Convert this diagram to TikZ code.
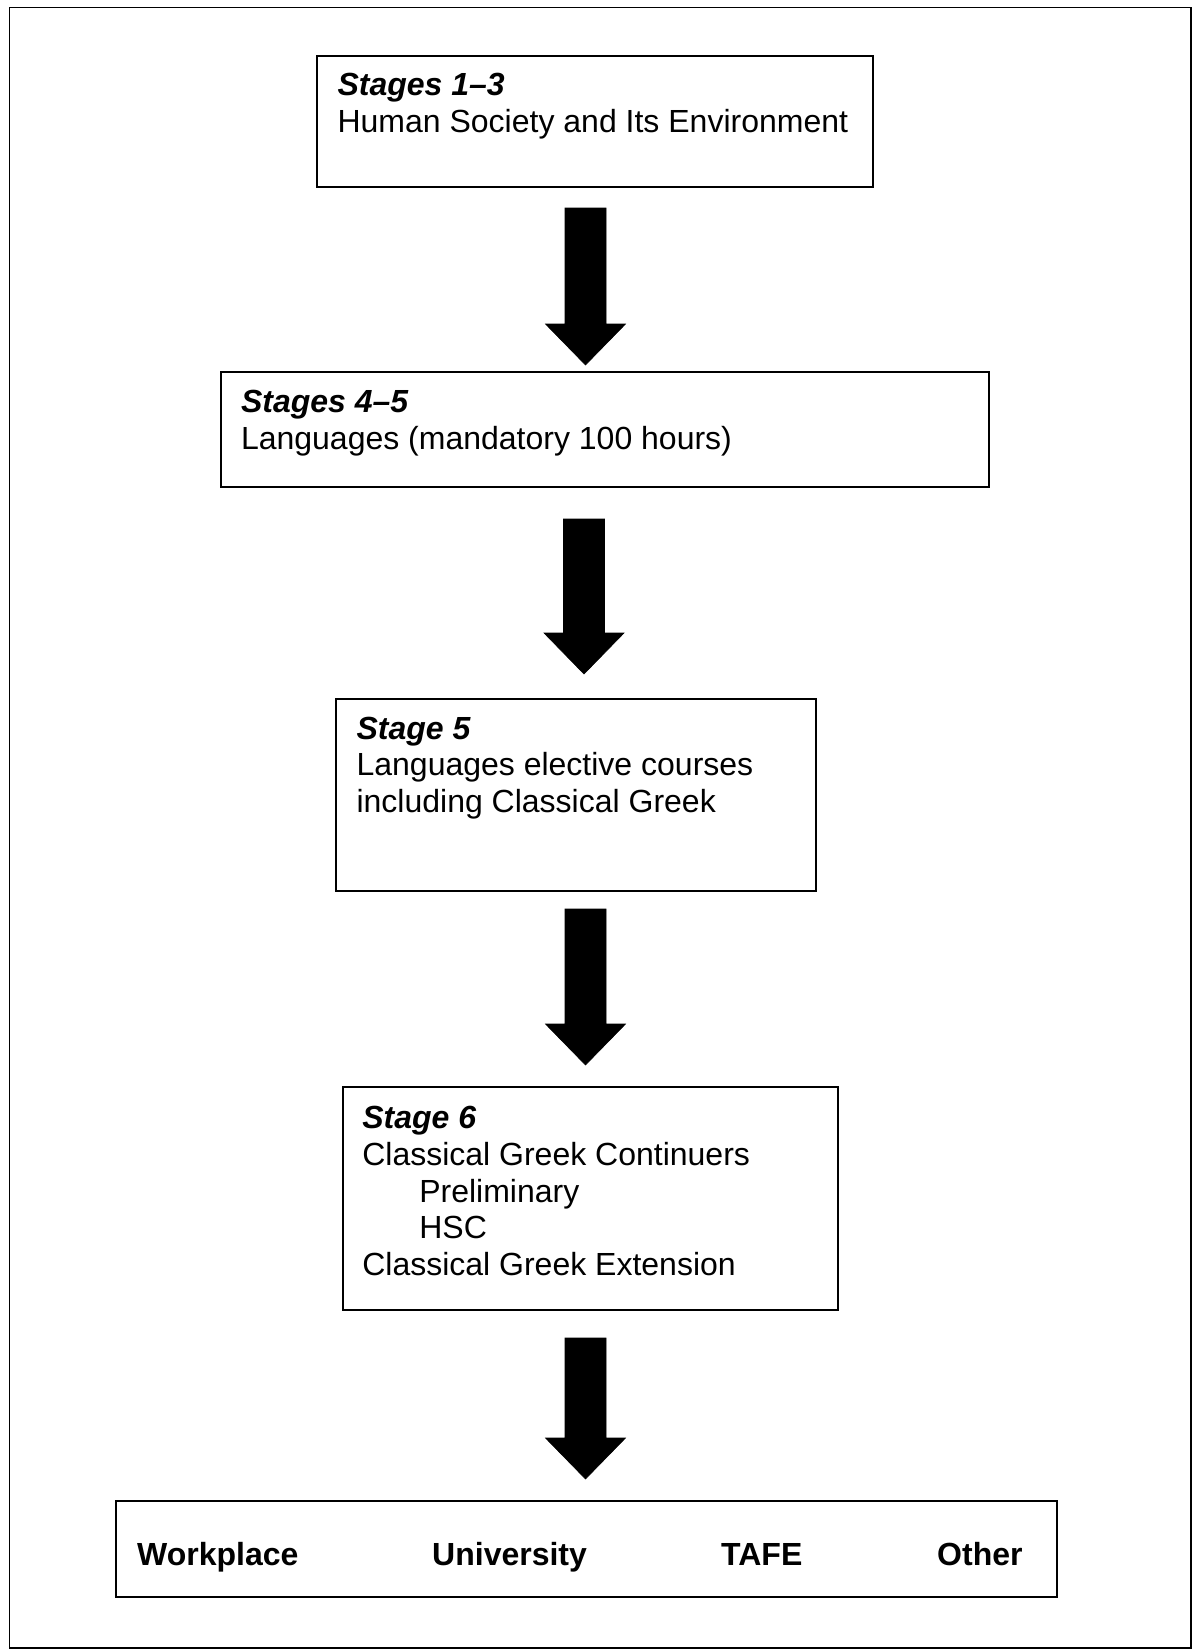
\documentclass[tikz,border=0pt]{standalone}
\usepackage{fontspec}
\setmainfont{Liberation Sans}
\usetikzlibrary{calc}
\tikzset{
  box/.style={draw=black, line width=1.8pt, inner sep=0pt},
  frame/.style={draw=black, line width=1.5pt},
  txt/.style={anchor=base west, inner sep=0pt, font=\fontsize{32}{36.7}\selectfont},
  dest/.style={anchor=base west, inner sep=0pt, font=\fontsize{32}{36.7}\selectfont\bfseries},
  blk/.style={fill=black, draw=black, line width=0.6pt, line join=miter}
}
% block arrow from shaft top #1 to tip #2
\newcommand\blkarrow[2]{%
  \path[blk] ($(#1)+(-20.5,0)$) -- ($(#1)+(20.5,0)$) -- ($(#2)+(20.5,-41)$) -- ($(#2)+(40,-41)$) -- (#2)
    -- ($(#2)+(-40,-41)$) -- ($(#2)+(-20.5,-41)$) -- cycle;}
\begin{document}
\begin{tikzpicture}[x=1pt,y=-1pt]
\useasboundingbox (0,0) rectangle (1193,1650);
\draw[frame] (9.3,7.3) rectangle (1191,1648);

% boxes
\node[box, minimum width=556.3pt, minimum height=130.7pt] (b1) at (594.85,121.35) {};
\node[box, minimum width=768.6pt, minimum height=115pt]   (b2) at (605,429.8) {};
\node[box, minimum width=480.3pt, minimum height=191.7pt] (b3) at (575.85,794.85) {};
\node[box, minimum width=495.3pt, minimum height=223pt]   (b4) at (590.35,1198.5) {};
\node[box, minimum width=941.3pt, minimum height=96pt]    (b5) at (586.65,1548.7) {};

% texts
\node[txt] (t1) at ($(b1.north west)+(21.6,40.5)$) {\begin{tabular}[t]{@{}l@{}}\textbf{\textit{Stages 1–3}}\\ Human Society and Its Environment\end{tabular}};
\node[txt] (t2) at ($(b2.north west)+(21,41.5)$) {\begin{tabular}[t]{@{}l@{}}\textbf{\textit{Stages 4–5}}\\ Languages (mandatory 100 hours)\end{tabular}};
\node[txt] (t3) at ($(b3.north west)+(21.6,41)$) {\begin{tabular}[t]{@{}l@{}}\textbf{\textit{Stage 5}}\\ Languages elective courses\\ including Classical Greek\end{tabular}};
\node[txt] (t4) at ($(b4.north west)+(20.3,42.5)$) {\begin{tabular}[t]{@{}l@{}}\textbf{\textit{Stage 6}}\\ Classical Greek Continuers\\ \hspace*{57pt}Preliminary\\ \hspace*{57pt}HSC\\ Classical Greek Extension\end{tabular}};

\node[dest] (d1) at (137,1565) {Workplace};
\node[dest] (d2) at (432,1565) {University};
\node[dest] (d3) at (721,1565) {TAFE};
\node[dest] (d4) at (937,1565) {Other};

% arrows
\coordinate (a1s) at (585.5,208);  \coordinate (a1t) at (585.5,365);
\coordinate (a2s) at (584,519);    \coordinate (a2t) at (584,674);
\coordinate (a3s) at (585.5,909);  \coordinate (a3t) at (585.5,1065);
\coordinate (a4s) at (585.5,1338); \coordinate (a4t) at (585.5,1479);
\blkarrow{a1s}{a1t}
\blkarrow{a2s}{a2t}
\blkarrow{a3s}{a3t}
\blkarrow{a4s}{a4t}
\end{tikzpicture}
\end{document}
